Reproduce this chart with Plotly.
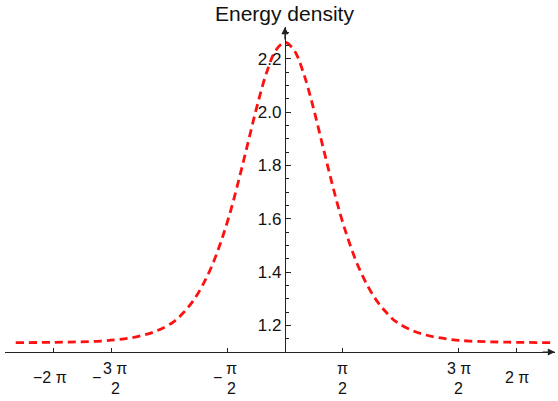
import math
import plotly.graph_objects as go

# Data
x_vals = [-7.3, -6.0, -5.0, -4.5, -4.0, -3.5, -3.0, -2.75, -2.5, -2.25, -2.0, -1.75,
          -1.5, -1.25, -1.0, -0.75, -0.5, -0.25, 0.0, 0.25, 0.5, 0.75, 1.0, 1.25,
          1.5, 1.75, 2.0, 2.25, 2.5, 2.75, 3.0, 3.5, 4.0, 4.5, 5.0, 6.0, 7.3]
energy = [1.135, 1.137, 1.141, 1.147, 1.158, 1.178, 1.215, 1.248, 1.290, 1.346, 1.417, 1.508,
          1.617, 1.747, 1.887, 2.027, 2.148, 2.232, 2.262, 2.232, 2.148, 2.027, 1.887, 1.747,
          1.617, 1.508, 1.417, 1.346, 1.290, 1.248, 1.215, 1.178, 1.158, 1.147, 1.141, 1.137, 1.135]

x_tick_vals = [-2 * math.pi, -1.5 * math.pi, -0.5 * math.pi, 0.5 * math.pi, 1.5 * math.pi, 2 * math.pi]
# (sign, numerator, denominator) ; denominator None -> single-line label
x_tick_parts = [("−", "2 π", None), ("−", "3 π", "2"), ("−", "π", "2"),
                ("", "π", "2"), ("", "3 π", "2"), ("", "2 π", None)]
y_tick_vals = [1.2, 1.4, 1.6, 1.8, 2.0, 2.2]
title_text = "Energy density"

x_range = [-7.59, 7.32]
y_range = [1.1, 2.32]

FONT = "Liberation Sans, Arial, sans-serif"
AX = "#222222"
TXT = "#111111"
FS = 16

fig = go.Figure()
fig.add_trace(go.Scatter(
    x=x_vals, y=energy, mode="lines",
    line=dict(color="#ff1010", width=2.8, dash="8px,5px", shape="spline", smoothing=1.0),
    hoverinfo="skip", showlegend=False))

y_pos = (0 - x_range[0]) / (x_range[1] - x_range[0])

fig.update_layout(
    width=558, height=401,
    margin=dict(l=5, r=3, t=27, b=49),
    paper_bgcolor="white", plot_bgcolor="white",
    font=dict(family=FONT, size=FS, color=TXT),
    xaxis=dict(range=x_range, showgrid=False, zeroline=False, automargin=False,
               showline=True, linecolor=AX, linewidth=1.2,
               tickmode="array", tickvals=x_tick_vals, ticktext=[""] * len(x_tick_vals),
               ticks="inside", ticklen=4, tickcolor=AX, tickwidth=1),
    yaxis=dict(range=y_range, showgrid=False, zeroline=False, automargin=False,
               anchor="free", position=y_pos, side="left",
               showline=True, linecolor=AX, linewidth=1.2,
               tickmode="array", tickvals=y_tick_vals, ticktext=[f"{v:.1f}" for v in y_tick_vals],
               ticks="inside", ticklen=5, tickcolor=AX, tickwidth=1,
               tickfont=dict(family=FONT, size=17, color=TXT),
               minor=dict(dtick=0.05, tick0=1.0, ticks="inside", ticklen=3, tickcolor=AX, tickwidth=0.8)),
)

annotations = []
shapes = []
for xv, (sign, num, den) in zip(x_tick_vals, x_tick_parts):
    if den is None:
        annotations.append(dict(x=xv, y=y_range[0], xref="x", yref="y", text=sign + num,
                                showarrow=False, yshift=-25, xshift=-3 if sign else 0,
                                font=dict(family=FONT, size=FS), yanchor="middle"))
        continue
    off = 4 if sign else 0
    half = 11 if len(num) > 1 else 6
    annotations.append(dict(x=xv, y=y_range[0], xref="x", yref="y", text=num, showarrow=False,
                            xshift=off, yshift=-16, yanchor="middle", font=dict(family=FONT, size=FS)))
    annotations.append(dict(x=xv, y=y_range[0], xref="x", yref="y", text=den, showarrow=False,
                            xshift=off, yshift=-36, yanchor="middle", font=dict(family=FONT, size=FS)))
    shapes.append(dict(type="line", xref="x", yref="y", xsizemode="pixel", ysizemode="pixel",
                       xanchor=xv, yanchor=y_range[0], x0=off - half, x1=off + half, y0=-23, y1=-23,
                       line=dict(color=TXT, width=1)))
    if sign:
        annotations.append(dict(x=xv, y=y_range[0], xref="x", yref="y", text=sign, showarrow=False,
                                xshift=off - half - 8, yshift=-25, yanchor="middle",
                                font=dict(family=FONT, size=FS)))

# axis arrows
annotations.append(dict(x=0, y=y_range[1], xref="x", yref="y", ax=0, ay=14,
                        showarrow=True, arrowhead=2, arrowsize=1.2, arrowwidth=1.2, arrowcolor=AX, text=""))
annotations.append(dict(x=x_range[1], y=y_range[0], xref="x", yref="y", ax=-14, ay=0,
                        showarrow=True, arrowhead=2, arrowsize=1.2, arrowwidth=1.2, arrowcolor=AX, text=""))
# title
annotations.append(dict(x=0, y=1, xref="x", yref="paper", text=title_text, showarrow=False,
                        yanchor="bottom", yshift=0, font=dict(family=FONT, size=21, color=TXT)))

fig.update_layout(annotations=annotations, shapes=shapes)
fig.write_html("out.html", config={"displayModeBar": False},
               post_script="document.body.style.margin='0';")
